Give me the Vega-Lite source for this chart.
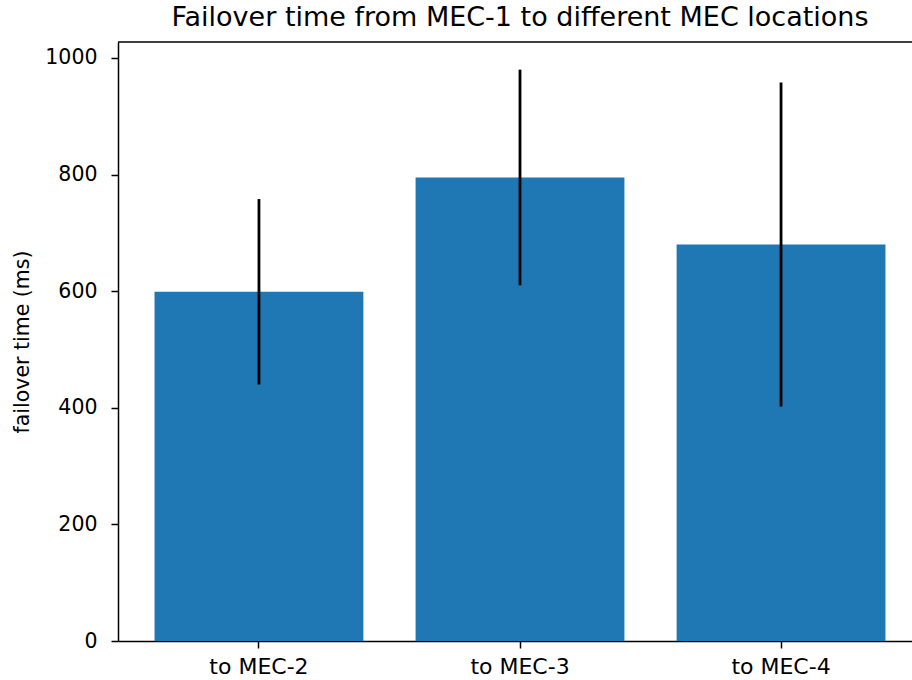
{
  "$schema": "https://vega.github.io/schema/vega-lite/v6.json",
  "autosize": {"type": "none"},
  "padding": {"left": 118, "top": 42, "right": 0, "bottom": 39},
  "width": 794,
  "height": 599,
  "background": "white",
  "title": {
    "text": "Failover time from MEC-1 to different MEC locations",
    "font": "DejaVu Sans",
    "fontSize": 27,
    "fontWeight": "normal",
    "color": "black",
    "anchor": "middle",
    "frame": "group",
    "dx": 5,
    "offset": 9
  },
  "config": {
    "view": {"stroke": null},
    "axis": {
      "labelFont": "DejaVu Sans",
      "labelFontSize": 20.5,
      "labelColor": "black",
      "titleFont": "DejaVu Sans",
      "titleFontSize": 20.5,
      "titleFontWeight": "normal",
      "titleColor": "black",
      "domainColor": "black",
      "domainWidth": 1.5,
      "tickColor": "black",
      "tickWidth": 1.5,
      "tickSize": 7,
      "grid": false
    }
  },
  "layer": [
    {
      "data": {
        "values": [
          {"location": "to MEC-2", "mean": 599, "lo": 440, "hi": 758},
          {"location": "to MEC-3", "mean": 795, "lo": 610, "hi": 980},
          {"location": "to MEC-4", "mean": 680, "lo": 402, "hi": 958}
        ]
      },
      "encoding": {
        "x": {
          "field": "location",
          "type": "nominal",
          "sort": null,
          "scale": {"range": [0, 804], "paddingInner": 0.2, "paddingOuter": 0.14},
          "axis": {"title": null, "labelAngle": 0, "labelPadding": 8, "labelFontSize": 22}
        }
      },
      "layer": [
        {
          "mark": {"type": "bar", "color": "#1f77b4"},
          "encoding": {
            "y": {
              "field": "mean",
              "type": "quantitative",
              "scale": {"domain": [0, 1027.4], "nice": false, "zero": true},
              "axis": {
                "title": "failover time (ms)",
                "values": [0, 200, 400, 600, 800, 1000],
                "format": "d",
                "labelPadding": 14,
                "titlePadding": 12
              }
            }
          }
        },
        {
          "mark": {"type": "rule", "color": "black", "strokeWidth": 2.8},
          "encoding": {
            "y": {"field": "lo", "type": "quantitative"},
            "y2": {"field": "hi"}
          }
        }
      ]
    },
    {
      "data": {"values": [{"spine": "top"}]},
      "mark": {"type": "rule", "color": "black", "strokeWidth": 1.5},
      "encoding": {
        "y": {"datum": 1027.4, "type": "quantitative"}
      }
    }
  ]
}
